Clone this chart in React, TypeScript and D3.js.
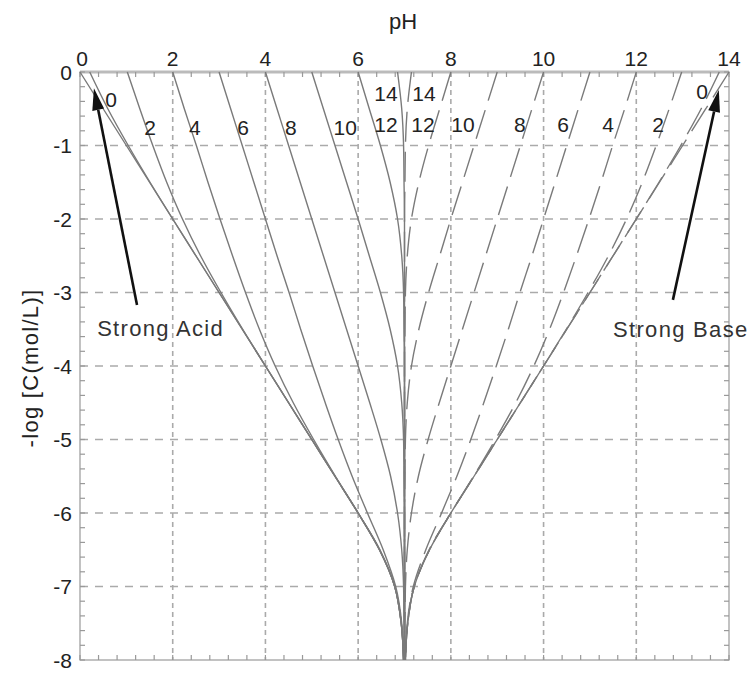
import React from "react";
import * as d3 from "d3";

// -log[C] levels (plotted as 0 ... -8)
const logC = [0, -0.5, -1, -1.5, -2, -2.5, -3, -3.5, -4, -4.5, -5, -5.5, -6, -6.5, -7, -7.5, -8];

// Acids (solid): strong acid and pKa = 0,2,...,14
const strongAcidPH = [0, 0.5, 1, 1.5, 2, 2.5, 3, 3.5, 4, 4.5, 5, 5.5, 6.0, 6.46, 6.79, 6.93, 6.98];
const acidPKa0PH = [0.21, 0.6, 1.04, 1.51, 2.0, 2.5, 3.0, 3.5, 4.0, 4.5, 5.0, 5.5, 6.0, 6.46, 6.79, 6.93, 6.98];
const acidPKa2PH = [1.02, 1.29, 1.57, 1.87, 2.21, 2.6, 3.04, 3.51, 4.0, 4.5, 5.0, 5.5, 6.0, 6.46, 6.79, 6.93, 6.98];
const acidPKa4PH = [2.0, 2.25, 2.51, 2.76, 3.02, 3.29, 3.57, 3.87, 4.21, 4.6, 5.04, 5.51, 6.0, 6.47, 6.79, 6.93, 6.98];
const acidPKa6PH = [3.0, 3.25, 3.5, 3.75, 4.0, 4.25, 4.51, 4.76, 5.02, 5.29, 5.57, 5.87, 6.2, 6.54, 6.81, 6.94, 6.98];
const acidPKa8PH = [4.0, 4.25, 4.5, 4.75, 5.0, 5.25, 5.5, 5.75, 6.0, 6.25, 6.49, 6.7, 6.85, 6.94, 6.98, 6.99, 7.0];
const acidPKa10PH = [5.0, 5.25, 5.5, 5.75, 6.0, 6.24, 6.48, 6.69, 6.85, 6.94, 6.98, 6.99, 7.0, 7.0, 7.0, 7.0, 7.0];
const acidPKa12PH = [6.0, 6.24, 6.48, 6.69, 6.85, 6.94, 6.98, 6.99, 7.0, 7.0, 7.0, 7.0, 7.0, 7.0, 7.0, 7.0, 7.0];
const acidPKa14PH = [6.85, 6.94, 6.98, 6.99, 7.0, 7.0, 7.0, 7.0, 7.0, 7.0, 7.0, 7.0, 7.0, 7.0, 7.0, 7.0, 7.0];

// Bases (dashed): strong base and pKb = 0,2,...,14
const strongBasePH = [14, 13.5, 13, 12.5, 12, 11.5, 11, 10.5, 10, 9.5, 9, 8.5, 8.0, 7.54, 7.21, 7.07, 7.02];
const basePKb0PH = [13.79, 13.4, 12.96, 12.49, 12.0, 11.5, 11.0, 10.5, 10.0, 9.5, 9.0, 8.5, 8.0, 7.54, 7.21, 7.07, 7.02];
const basePKb2PH = [12.98, 12.71, 12.43, 12.13, 11.79, 11.4, 10.96, 10.49, 10.0, 9.5, 9.0, 8.5, 8.0, 7.54, 7.21, 7.07, 7.02];
const basePKb4PH = [12.0, 11.75, 11.49, 11.24, 10.98, 10.71, 10.43, 10.13, 9.79, 9.4, 8.96, 8.49, 8.0, 7.53, 7.21, 7.07, 7.02];
const basePKb6PH = [11.0, 10.75, 10.5, 10.25, 10.0, 9.75, 9.49, 9.24, 8.98, 8.71, 8.43, 8.13, 7.8, 7.46, 7.19, 7.06, 7.02];
const basePKb8PH = [10.0, 9.75, 9.5, 9.25, 9.0, 8.75, 8.5, 8.25, 8.0, 7.75, 7.51, 7.3, 7.15, 7.06, 7.02, 7.01, 7.0];
const basePKb10PH = [9.0, 8.75, 8.5, 8.25, 8.0, 7.76, 7.52, 7.31, 7.15, 7.06, 7.02, 7.01, 7.0, 7.0, 7.0, 7.0, 7.0];
const basePKb12PH = [8.0, 7.76, 7.52, 7.31, 7.15, 7.06, 7.02, 7.01, 7.0, 7.0, 7.0, 7.0, 7.0, 7.0, 7.0, 7.0, 7.0];
const basePKb14PH = [7.15, 7.06, 7.02, 7.01, 7.0, 7.0, 7.0, 7.0, 7.0, 7.0, 7.0, 7.0, 7.0, 7.0, 7.0, 7.0, 7.0];

const acidCurves = [strongAcidPH, acidPKa0PH, acidPKa2PH, acidPKa4PH, acidPKa6PH, acidPKa8PH, acidPKa10PH, acidPKa12PH, acidPKa14PH];
const baseCurves = [strongBasePH, basePKb0PH, basePKb2PH, basePKb4PH, basePKb6PH, basePKb8PH, basePKb10PH, basePKb12PH, basePKb14PH];

// Curve labels (pKa / pKb)
const acidLabels = ["0", "2", "4", "6", "8", "10", "12", "14"];
const baseLabels = ["0", "2", "4", "6", "8", "10", "12", "14"];

// Axis ticks
const xTickValues = [0, 2, 4, 6, 8, 10, 12, 14];
const yTickValues = [0, -1, -2, -3, -4, -5, -6, -7, -8];

const W = 752;
const H = 673;

export default function App() {
  const x = d3.scaleLinear().domain([0, 14]).range([80, 729]);
  const y = d3.scaleLinear().domain([0, -8]).range([72, 660]);

  const line = d3
    .line<[number, number]>()
    .x((d) => x(d[0]))
    .y((d) => y(d[1]))
    .curve(d3.curveMonotoneY);

  const toPts = (vals: number[]) => vals.map((v, i) => [v, logC[i]] as [number, number]);

  // label anchors in data coords
  const acidLabelPos: [number, number][] = [
    [0.67, -0.37], [1.51, -0.75], [2.48, -0.75], [3.52, -0.75], [4.55, -0.75], [5.72, -0.75], [6.6, -0.72], [6.6, -0.29],
  ];
  const baseLabelPos: [number, number][] = [
    [13.42, -0.27], [12.47, -0.72], [11.39, -0.72], [10.42, -0.72], [9.49, -0.72], [8.26, -0.72], [7.4, -0.72], [7.42, -0.29],
  ];

  const xMinor = d3.range(0, 35 + 1).map((i) => i * 0.4);
  const yMinor = d3.range(0, 40 + 1).map((i) => -i * 0.2);

  const arrow = (tail: [number, number], tip: [number, number]) => {
    const x1 = x(tail[0]), y1 = y(tail[1]);
    const x2 = x(tip[0]), y2 = y(tip[1]);
    const ang = Math.atan2(y2 - y1, x2 - x1);
    const L = 22, Wd = 6;
    const bx = x2 - L * Math.cos(ang), by = y2 - L * Math.sin(ang);
    const px = -Math.sin(ang) * Wd, py = Math.cos(ang) * Wd;
    return (
      <g>
        <line x1={x1} y1={y1} x2={bx} y2={by} stroke="#111" strokeWidth={2.6} />
        <polygon points={`${x2},${y2} ${bx + px},${by + py} ${bx - px},${by - py}`} fill="#111" />
      </g>
    );
  };

  const font = "'Liberation Sans', Arial, Helvetica, sans-serif";

  return (
    <svg width={W} height={H} style={{ position: "absolute", left: 0, top: 0, background: "#fff" }} fontFamily={font}>
      <rect x={0} y={0} width={W} height={H} fill="#fff" />
      {/* grid */}
      {xTickValues.slice(1, -1).map((v) => (
        <line key={"gx" + v} x1={x(v)} x2={x(v)} y1={y(0)} y2={y(-8)} stroke="#aaa" strokeWidth={1.6} strokeDasharray="5,4" />
      ))}
      {yTickValues.slice(1, -1).map((v) => (
        <line key={"gy" + v} x1={x(0)} x2={x(14)} y1={y(v)} y2={y(v)} stroke="#aaa" strokeWidth={1.6} strokeDasharray="8,7" />
      ))}
      {/* frame */}
      <rect x={x(0)} y={y(0)} width={x(14) - x(0)} height={y(-8) - y(0)} fill="none" stroke="#999" strokeWidth={1.2} />
      <line x1={x(0)} x2={x(14)} y1={y(0)} y2={y(0)} stroke="#bbb" strokeWidth={3} />
      {/* minor ticks */}
      {xMinor.map((v, i) => (
        <g key={"xm" + i}>
          <line x1={x(v)} x2={x(v)} y1={y(0)} y2={y(0) + 5} stroke="#999" strokeWidth={1.2} />
          <line x1={x(v)} x2={x(v)} y1={y(-8)} y2={y(-8) - 5} stroke="#999" strokeWidth={1.2} />
        </g>
      ))}
      {yMinor.map((v, i) => (
        <g key={"ym" + i}>
          <line x1={x(0)} x2={x(0) + 5} y1={y(v)} y2={y(v)} stroke="#999" strokeWidth={1.2} />
          <line x1={x(14)} x2={x(14) - 5} y1={y(v)} y2={y(v)} stroke="#999" strokeWidth={1.2} />
        </g>
      ))}
      {/* curves */}
      {acidCurves.map((vals, i) => (
        <path key={"a" + i} d={line(toPts(vals)) || ""} fill="none" stroke="#7a7a7a" strokeWidth={1.4} />
      ))}
      {baseCurves.map((vals, i) => (
        <path key={"b" + i} d={line(toPts(vals)) || ""} fill="none" stroke="#7a7a7a" strokeWidth={1.4} strokeDasharray="30,10" />
      ))}
      {/* curve labels */}
      {acidLabels.map((t, i) => (
        <text key={"al" + i} x={x(acidLabelPos[i][0])} y={y(acidLabelPos[i][1])} textAnchor="middle" dominantBaseline="central" fontSize={21} fill="#222">
          {t}
        </text>
      ))}
      {baseLabels.map((t, i) => (
        <text key={"bl" + i} x={x(baseLabelPos[i][0])} y={y(baseLabelPos[i][1])} textAnchor="middle" dominantBaseline="central" fontSize={21} fill="#222">
          {t}
        </text>
      ))}
      {/* arrows + annotations */}
      {arrow([1.23, -3.17], [0.3, -0.22])}
      {arrow([12.79, -3.1], [13.78, -0.245])}
      <text x={x(0.37)} y={y(-3.59)} fontSize={22} fill="#333" letterSpacing={1.3}>
        Strong Acid
      </text>
      <text x={x(11.5)} y={y(-3.6)} fontSize={22} fill="#333" letterSpacing={1.3}>
        Strong Base
      </text>
      {/* tick labels */}
      {xTickValues.map((v) => (
        <text key={"xt" + v} x={x(v) + (v === 0 ? 2 : 0)} y={y(0) - 6} textAnchor="middle" fontSize={21} fill="#222">
          {String(v)}
        </text>
      ))}
      {yTickValues.map((v) => (
        <text key={"yt" + v} x={x(0) - 8} y={y(v)} textAnchor="end" dominantBaseline="central" fontSize={21} fill="#222">
          {v === 0 ? "0" : "-" + Math.abs(v)}
        </text>
      ))}
      {/* axis titles */}
      <text x={403} y={29} textAnchor="middle" fontSize={22} fill="#222">
        pH
      </text>
      <text transform="translate(38,368) rotate(-90)" textAnchor="middle" fontSize={22} fill="#222" letterSpacing={1.3}>
        -log [C(mol/L)]
      </text>
    </svg>
  );
}
